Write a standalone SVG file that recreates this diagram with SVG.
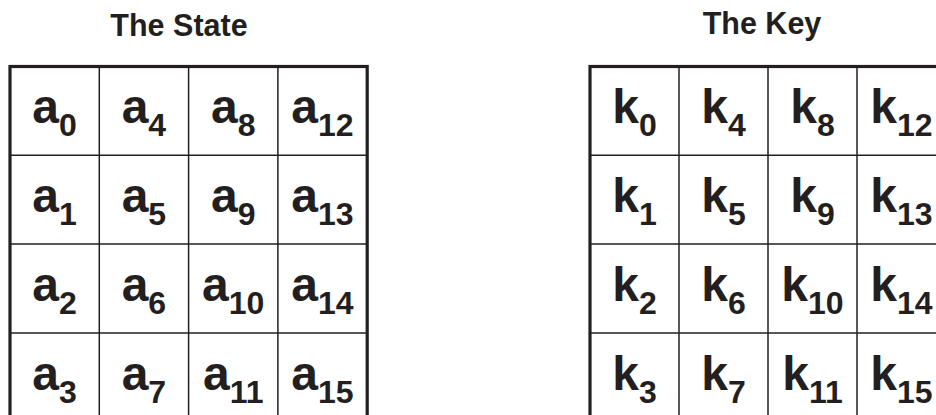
<svg xmlns="http://www.w3.org/2000/svg" width="936" height="415" viewBox="0 0 936 415">
<style>
  text { font-family: "Liberation Sans", Arial, sans-serif; font-weight: bold; fill: #231f20; }
  .title { font-size: 30.5px; text-anchor: middle; }
  .cell { font-size: 48px; text-anchor: middle; }
  .sub { font-size: 32px; }
  .outer { fill: none; stroke: #231f20; stroke-width: 3.2; }
  .inner { stroke: #231f20; stroke-width: 1.5; fill: none; }
</style>
<rect width="936" height="415" fill="#ffffff"/>
<text class="title" x="179" y="35.5">The State</text>
<text class="title" x="762" y="34">The Key</text>
<g id="grid-state">
  <rect class="outer" x="10" y="66.5" width="357.2" height="400"/>
  <path class="inner" d="M99.3 66.5V415M188.6 66.5V415M277.9 66.5V415M10 155.3H367.2M10 244.1H367.2M10 332.9H367.2"/>
</g>
<g id="grid-key">
  <rect class="outer" x="590" y="66.5" width="356" height="400"/>
  <path class="inner" d="M679 66.5V415M768 66.5V415M857 66.5V415M590 155.3H946M590 244.1H946M590 332.9H946"/>
</g>
<g id="state">
  <g id="a0"><text class="cell" x="54.6" y="123.3">a<tspan class="sub" dy="13">0</tspan></text></g>
  <g id="a4"><text class="cell" x="143.9" y="123.3">a<tspan class="sub" dy="13">4</tspan></text></g>
  <g id="a8"><text class="cell" x="233.2" y="123.3">a<tspan class="sub" dy="13">8</tspan></text></g>
  <g id="a12"><text class="cell" x="322.5" y="123.3">a<tspan class="sub" dy="13">12</tspan></text></g>
  <g id="a1"><text class="cell" x="54.6" y="212.1">a<tspan class="sub" dy="13">1</tspan></text></g>
  <g id="a5"><text class="cell" x="143.9" y="212.1">a<tspan class="sub" dy="13">5</tspan></text></g>
  <g id="a9"><text class="cell" x="233.2" y="212.1">a<tspan class="sub" dy="13">9</tspan></text></g>
  <g id="a13"><text class="cell" x="322.5" y="212.1">a<tspan class="sub" dy="13">13</tspan></text></g>
  <g id="a2"><text class="cell" x="54.6" y="300.9">a<tspan class="sub" dy="13">2</tspan></text></g>
  <g id="a6"><text class="cell" x="143.9" y="300.9">a<tspan class="sub" dy="13">6</tspan></text></g>
  <g id="a10"><text class="cell" x="233.2" y="300.9">a<tspan class="sub" dy="13">10</tspan></text></g>
  <g id="a14"><text class="cell" x="322.5" y="300.9">a<tspan class="sub" dy="13">14</tspan></text></g>
  <g id="a3"><text class="cell" x="54.6" y="389.7">a<tspan class="sub" dy="13">3</tspan></text></g>
  <g id="a7"><text class="cell" x="143.9" y="389.7">a<tspan class="sub" dy="13">7</tspan></text></g>
  <g id="a11"><text class="cell" x="233.2" y="389.7">a<tspan class="sub" dy="13">11</tspan></text></g>
  <g id="a15"><text class="cell" x="322.5" y="389.7">a<tspan class="sub" dy="13">15</tspan></text></g>
</g>
<g id="key">
  <g id="k0"><text class="cell" x="634.5" y="123.3">k<tspan class="sub" dy="13">0</tspan></text></g>
  <g id="k4"><text class="cell" x="723.5" y="123.3">k<tspan class="sub" dy="13">4</tspan></text></g>
  <g id="k8"><text class="cell" x="812.5" y="123.3">k<tspan class="sub" dy="13">8</tspan></text></g>
  <g id="k12"><text class="cell" x="901.5" y="123.3">k<tspan class="sub" dy="13">12</tspan></text></g>
  <g id="k1"><text class="cell" x="634.5" y="212.1">k<tspan class="sub" dy="13">1</tspan></text></g>
  <g id="k5"><text class="cell" x="723.5" y="212.1">k<tspan class="sub" dy="13">5</tspan></text></g>
  <g id="k9"><text class="cell" x="812.5" y="212.1">k<tspan class="sub" dy="13">9</tspan></text></g>
  <g id="k13"><text class="cell" x="901.5" y="212.1">k<tspan class="sub" dy="13">13</tspan></text></g>
  <g id="k2"><text class="cell" x="634.5" y="300.9">k<tspan class="sub" dy="13">2</tspan></text></g>
  <g id="k6"><text class="cell" x="723.5" y="300.9">k<tspan class="sub" dy="13">6</tspan></text></g>
  <g id="k10"><text class="cell" x="812.5" y="300.9">k<tspan class="sub" dy="13">10</tspan></text></g>
  <g id="k14"><text class="cell" x="901.5" y="300.9">k<tspan class="sub" dy="13">14</tspan></text></g>
  <g id="k3"><text class="cell" x="634.5" y="389.7">k<tspan class="sub" dy="13">3</tspan></text></g>
  <g id="k7"><text class="cell" x="723.5" y="389.7">k<tspan class="sub" dy="13">7</tspan></text></g>
  <g id="k11"><text class="cell" x="812.5" y="389.7">k<tspan class="sub" dy="13">11</tspan></text></g>
  <g id="k15"><text class="cell" x="901.5" y="389.7">k<tspan class="sub" dy="13">15</tspan></text></g>
</g>
</svg>
